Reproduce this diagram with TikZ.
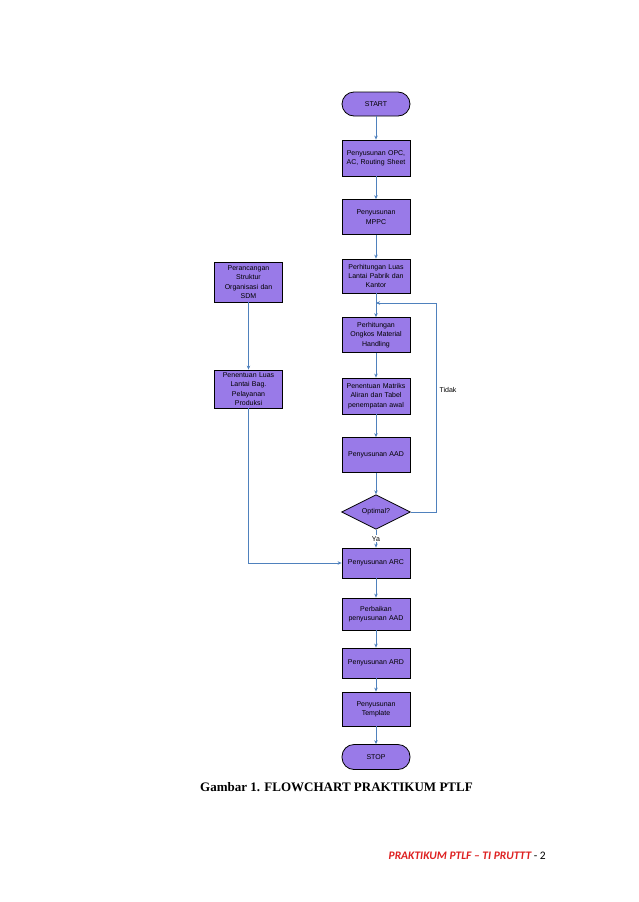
\documentclass[tikz,border=0pt]{standalone}
\usepackage{fontspec}
\setmainfont{Liberation Sans}
\newfontfamily\capfont{Liberation Serif}
\newfontfamily\footfont{Carlito}
\usetikzlibrary{arrows.meta,shapes.geometric,positioning}
\definecolor{boxfill}{RGB}{153,122,232}
\definecolor{linkblue}{RGB}{79,129,189}
\definecolor{footred}{RGB}{222,32,32}

\tikzset{
  proc/.style={draw=black,line width=0.8pt,fill=boxfill,minimum width=68pt,minimum height=34pt,
    text width=67pt,align=center,inner sep=0.5pt,font=\fontsize{7}{9.3}\selectfont},
  term/.style={proc,rounded corners=12pt,minimum height=24pt},
  decide/.style={diamond,draw=black,line width=0.8pt,fill=boxfill,minimum width=69pt,minimum height=29pt,
    inner sep=0pt,font=\fontsize{7}{9}\selectfont},
  link/.style={draw=linkblue,line width=0.8pt,-{Stealth[length=4pt,width=3.5pt]}}
}

\begin{document}
\begin{tikzpicture}[x=1pt,y=-1pt]
\fill[white] (0,0) rectangle (638,902);
\useasboundingbox (0,0) rectangle (638,902);

% main column
\node[term] (start) at (376,104) {START};
\node[proc,minimum height=36pt] (opc) at (376,158) {Penyusunan OPC,\\AC, Routing Sheet};
\node[proc,minimum height=35pt] (mppc) at (376,217) {Penyusunan\\MPPC};
\node[proc] (luas) at (376,276) {Perhitungan Luas\\Lantai Pabrik dan\\Kantor};
\node[proc,minimum height=35pt] (ongkos) at (376,335) {Perhitungan\\Ongkos Material\\Handling};
\node[proc,minimum height=36pt] (matriks) at (376,396) {Penentuan Matriks\\Aliran dan Tabel\\penempatan awal};
\node[proc,minimum height=35pt] (aad) at (376,455) {Penyusunan AAD};
\node[decide] (optimal) at (376,512) {Optimal?};
\node[proc,minimum height=30pt] (arc) at (376,563) {Penyusunan ARC};
\node[proc,minimum height=32pt] (perbaikan) at (376,614) {Perbaikan\\penyusunan AAD};
\node[proc,minimum height=30pt] (ard) at (376,663) {Penyusunan ARD};
\node[proc] (template) at (376,709) {Penyusunan\\Template};
\node[term,minimum height=25pt] (stop) at (376,757) {STOP};

% left column
\node[proc,minimum height=40pt] (struktur) at (248.5,282) {Perancangan\\Struktur\\Organisasi dan\\SDM};
\node[proc,minimum height=38pt] (pelayanan) at (248.5,389) {Penentuan Luas\\Lantai Bag.\\Pelayanan\\Produksi};

% connectors
\draw[link] (start) -- (opc);
\draw[link] (opc) -- (mppc);
\draw[link] (mppc) -- (luas);
\draw[link] (luas) -- (ongkos);
\draw[link] (ongkos) -- (matriks);
\draw[link] (matriks) -- (aad);
\draw[link] (aad) -- (optimal);
\draw[link] (optimal) -- node[fill=white,inner sep=1pt,font=\fontsize{7}{8}\selectfont] (ya) {Ya} (arc);
\draw[link] (arc) -- (perbaikan);
\draw[link] (perbaikan) -- (ard);
\draw[link] (ard) -- (template);
\draw[link] (template) -- (stop);

% loop back
\coordinate (looptop) at (436,303);
\coordinate (joinpt) at (376,303);
\draw[link] (optimal.east) -- (optimal.east -| looptop) -- (looptop) -- (joinpt);
\node[font=\fontsize{7}{8}\selectfont] (tidak) at (448,390) {Tidak};

\draw[link] (struktur) -- (pelayanan);
\draw[link] (pelayanan.south) |- (arc.west);

% caption and footer
\node[anchor=west,inner sep=0pt,font=\capfont\bfseries\fontsize{13}{15}\selectfont] (caption) at (200,787) {Gambar 1. FLOWCHART PRAKTIKUM PTLF};
\node[anchor=east,inner sep=0pt,font=\footfont\fontsize{11.5}{14}\selectfont] (footer) at (546,856) {{\bfseries\itshape\color{footred}PRAKTIKUM PTLF – TI PRUTTT} - 2};
\end{tikzpicture}
\end{document}
